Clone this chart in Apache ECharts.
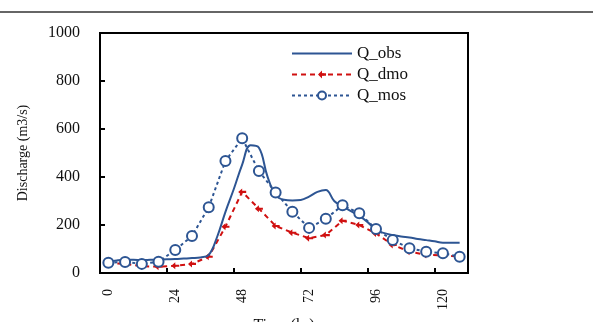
<!DOCTYPE html>
<html><head><meta charset="utf-8">
<script src="https://cdn.jsdelivr.net/npm/echarts@6/dist/echarts.min.js"></script>
<style>html,body{margin:0;padding:0;background:#fff}#c{width:593px;height:322px}</style>
</head><body><div id="c"></div>
<script>
// Time (hr) for the 6-hourly model series
const modelTimes = [0,6,12,18,24,30,36,42,48,54,60,66,72,78,84,90,96,102,108,114,120,126];
const qDmo = [42,38,28,26,30,38,68,193,338,268,196,168,145,158,218,200,165,117,89,75,74,68];
const qMos = [43,46,38,47,96,154,274,467,561,425,335,255,188,226,282,249,183,137,103,89,82,68];
// Observed discharge, 3-hourly
const obsTimes = [0,3,6,9,12,15,18,21,24,27,30,33,36,39,42,45,48,51,54,57,60,63,66,69,72,75,78,81,84,87,90,93,96,99,102,105,108,111,114,117,120,123,126];
const qObs = [46,52,55,55,54,55,56,57,58,60,62,65,75,150,255,350,452,532,522,405,325,305,302,304,318,338,346,300,278,258,238,212,180,166,158,152,148,142,137,132,126,126,126];
const xLabels = [0,24,48,72,96,120];
const xTicks = [21,45,69,93,117];

const pair = (t, v) => t.map((x, i) => [x, v[i]]);
const serif = 'Liberation Serif';
const obsColor = '#2d5593';
const dmoColor = '#d01010';
const mosColor = '#2d5593';

const chart = echarts.init(document.getElementById('c'));
chart.setOption({
  animation: false,
  backgroundColor: '#fff',
  grid: {left: 100, top: 33, right: 125, bottom: 49, outerBoundsMode: 'none', containLabel: false,
         show: true, borderColor: '#000', borderWidth: 2, backgroundColor: 'transparent'},
  legend: {
    orient: 'vertical', left: 286, top: 40, itemWidth: 60, itemHeight: 10, itemGap: 4,
    textStyle: {fontFamily: serif, fontSize: 17, color: '#111'},
    data: [
      {name: 'Q_obs', icon: 'path://M0,0 L60,0 L60,2 L0,2 Z'},
      'Q_dmo', 'Q_mos'
    ]
  },
  xAxis: {
    type: 'value', min: -3, max: 129,
    name: 'Time (hr)', nameLocation: 'middle', nameGap: 40,
    nameTextStyle: {fontFamily: serif, fontSize: 16, color: '#111'},
    axisLine: {show: true, onZero: false, lineStyle: {color: '#000', width: 2}},
    axisTick: {show: true, inside: true, length: 5, lineStyle: {color: '#000', width: 2}, customValues: xTicks},
    axisLabel: {rotate: 90, margin: 16, fontFamily: serif, fontSize: 14, color: '#111', customValues: xLabels},
    splitLine: {show: false}
  },
  yAxis: {
    type: 'value', min: 0, max: 1000, interval: 200,
    name: 'Discharge (m3/s)', nameLocation: 'middle', nameGap: 70,
    nameTextStyle: {fontFamily: serif, fontSize: 14, color: '#111'},
    axisLine: {show: true, onZero: false, lineStyle: {color: '#000', width: 2}},
    axisTick: {show: true, inside: true, length: 5, lineStyle: {color: '#000', width: 2}},
    axisLabel: {margin: 20, fontFamily: serif, fontSize: 16, color: '#111', formatter: v => String(v)},
    splitLine: {show: false}
  },
  graphic: [{type: 'line', shape: {x1: 0, y1: 12, x2: 593, y2: 12}, style: {stroke: '#333', lineWidth: 1.5}}],
  series: [
    {name: 'Q_obs', type: 'line', data: pair(obsTimes, qObs), smooth: 0.4, showSymbol: false, symbol: 'none',
     lineStyle: {color: obsColor, width: 2}, itemStyle: {color: obsColor}, z: 3},
    {name: 'Q_dmo', type: 'line', data: pair(modelTimes, qDmo),
     symbol: 'path://M0,5 L5,0 L5,3.5 L10,3.5 L10,6.5 L5,6.5 L5,10 Z', symbolSize: [8, 7],
     lineStyle: {color: dmoColor, width: 2, type: [5, 4]}, itemStyle: {color: dmoColor}, z: 2},
    {name: 'Q_mos', type: 'line', data: pair(modelTimes, qMos),
     symbol: 'emptyCircle', symbolSize: 10,
     lineStyle: {color: mosColor, width: 2, type: [3, 3]}, itemStyle: {color: mosColor, borderWidth: 1.8, borderColor: mosColor}, z: 4}
  ]
});
</script></body></html>
